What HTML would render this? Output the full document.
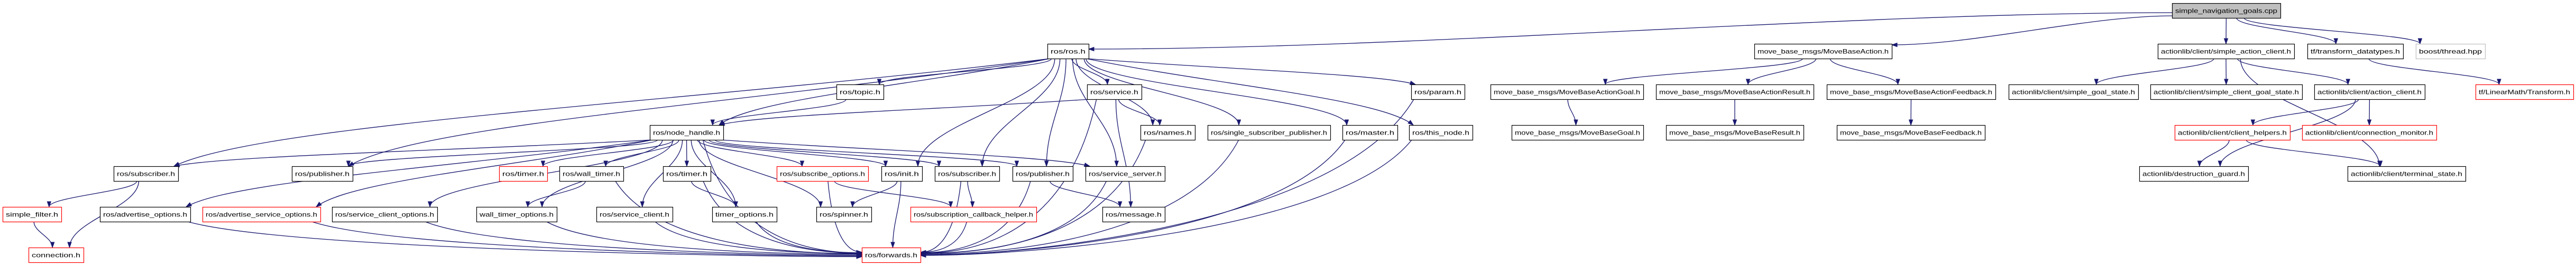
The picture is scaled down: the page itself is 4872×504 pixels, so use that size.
<!DOCTYPE html>
<html><head><meta charset="utf-8"><style>
html,body{margin:0;padding:0;background:#fff;width:4872px;height:504px;overflow:hidden}
svg{display:block}
text{font-family:"Liberation Sans",sans-serif;font-size:12px;fill:#000}
</style></head><body>
<svg id="g" width="4872" height="504" viewBox="0 0 4872 504" xmlns="http://www.w3.org/2000/svg">
<g id="edges" fill="none" stroke="#191970" stroke-width="1.3"></g>
<g id="arrows" fill="#191970" stroke="#191970" stroke-width="1"></g>
<g id="nodes"></g>
</svg>
<div id="labels" style="display:none">
simple_navigation_goals.cpp ros/ros.h move_base_msgs/MoveBaseAction.h actionlib/client/simple_action_client.h tf/transform_datatypes.h boost/thread.hpp ros/topic.h ros/service.h ros/param.h move_base_msgs/MoveBaseActionGoal.h move_base_msgs/MoveBaseActionResult.h move_base_msgs/MoveBaseActionFeedback.h actionlib/client/simple_goal_state.h actionlib/client/simple_client_goal_state.h actionlib/client/action_client.h tf/LinearMath/Transform.h ros/node_handle.h ros/names.h ros/single_subscriber_publisher.h ros/master.h ros/this_node.h move_base_msgs/MoveBaseGoal.h move_base_msgs/MoveBaseResult.h move_base_msgs/MoveBaseFeedback.h actionlib/client/client_helpers.h actionlib/client/connection_monitor.h ros/subscriber.h ros/publisher.h ros/timer.h ros/wall_timer.h ros/subscribe_options.h ros/init.h ros/service_server.h actionlib/destruction_guard.h actionlib/client/terminal_state.h simple_filter.h ros/advertise_options.h ros/advertise_service_options.h ros/service_client_options.h wall_timer_options.h ros/service_client.h timer_options.h ros/spinner.h ros/subscription_callback_helper.h ros/message.h connection.h ros/forwards.h
</div>
<script>
var RY=[6,83,160,237,315,392,469],H=28;
var N={
cpp:["simple_navigation_goals.cpp",4108,4313,0,"g"],
ros:["ros/ros.h",1981,2059,1],
mba:["move_base_msgs/MoveBaseAction.h",3318,3578,1],
sac:["actionlib/client/simple_action_client.h",4081,4339,1],
tfd:["tf/transform_datatypes.h",4364,4545,1],
bth:["boost/thread.hpp",4569,4700,1,"l"],
top:["ros/topic.h",1582,1671,2],
srv:["ros/service.h",2056,2159,2],
par:["ros/param.h",2669,2770,2],
mag:["move_base_msgs/MoveBaseActionGoal.h",2819,3108,2],
mar:["move_base_msgs/MoveBaseActionResult.h",3132,3430,2],
maf:["move_base_msgs/MoveBaseActionFeedback.h",3455,3774,2],
sgs:["actionlib/client/simple_goal_state.h",3799,4044,2],
scg:["actionlib/client/simple_client_goal_state.h",4067,4354,2],
acl:["actionlib/client/action_client.h",4377,4586,2],
ltf:["tf/LinearMath/Transform.h",4682,4867,2,"r"],
nh:["ros/node_handle.h",1229,1368,3],
nam:["ros/names.h",2157,2260,3],
ssp:["ros/single_subscriber_publisher.h",2284,2516,3],
mas:["ros/master.h",2539,2643,3],
thn:["ros/this_node.h",2665,2785,3],
mbg:["move_base_msgs/MoveBaseGoal.h",2859,3108,3],
mbr:["move_base_msgs/MoveBaseResult.h",3151,3411,3],
mbf:["move_base_msgs/MoveBaseFeedback.h",3474,3754,3],
chp:["actionlib/client/client_helpers.h",4113,4331,3,"r"],
cmo:["actionlib/client/connection_monitor.h",4354,4608,3,"r"],
sub1:["ros/subscriber.h",215,337,4],
pub1:["ros/publisher.h",552,667,4],
tim1:["ros/timer.h",944,1035,4,"r"],
wt:["ros/wall_timer.h",1058,1179,4],
tim2:["ros/timer.h",1254,1344,4],
sop:["ros/subscribe_options.h",1469,1642,4,"r"],
ini:["ros/init.h",1667,1744,4],
sub2:["ros/subscriber.h",1768,1890,4],
pub2:["ros/publisher.h",1915,2029,4],
ssv:["ros/service_server.h",2053,2203,4],
dg:["actionlib/destruction_guard.h",4046,4252,4],
ts:["actionlib/client/terminal_state.h",4440,4663,4],
sf:["simple_filter.h",5,116,5,"r"],
ao:["ros/advertise_options.h",189,360,5],
aso:["ros/advertise_service_options.h",383,606,5,"r"],
sco:["ros/service_client_options.h",628,827,5],
wto:["wall_timer_options.h",901,1053,5],
scl:["ros/service_client.h",1128,1272,5],
to:["timer_options.h",1347,1469,5],
spn:["ros/spinner.h",1544,1648,5],
sch:["ros/subscription_callback_helper.h",1722,1960,5,"r"],
msg:["ros/message.h",2085,2203,5],
con:["connection.h",54,158,6,"r"],
fwd:["ros/forwards.h",1630,1741,6,"r"]
};
var E=[["cpp","ros","L"],["cpp","mba","L"],["cpp","sac"],["cpp","tfd"],["cpp","bth"],
["ros","sub1"],["ros","pub1"],["ros","nh"],["ros","top"],["ros","srv"],["ros","ini"],["ros","sub2"],["ros","pub2"],["ros","ssv"],["ros","nam"],["ros","ssp"],["ros","mas"],["ros","thn"],["ros","par"],
["top","nh"],["srv","nh"],["srv","nam"],["srv","msg"],["srv","fwd"],
["nh","sub1"],["nh","pub1"],["nh","ao"],["nh","aso"],["nh","sco"],["nh","wto"],["nh","tim1"],["nh","wt"],["nh","scl"],["nh","tim2"],["nh","to"],["nh","spn"],["nh","sop"],["nh","ini"],["nh","sub2"],["nh","pub2"],["nh","ssv"],["nh","fwd"],
["sub1","sf"],["sub1","con"],["sf","con"],["wt","wto"],["wt","fwd"],["tim2","to"],["tim2","fwd"],
["ao","fwd"],["aso","fwd"],["sco","fwd"],["wto","fwd"],["scl","fwd"],["to","fwd"],["sop","fwd"],["sop","sch"],["ini","spn"],["ini","fwd"],["sub2","sch"],["sub2","fwd"],["pub2","msg"],["pub2","fwd"],["ssv","fwd"],["sch","fwd"],["nam","fwd"],["ssp","fwd"],["mas","fwd"],["thn","fwd"],["par","fwd"],
["mba","mag"],["mba","mar"],["mba","maf"],["mag","mbg"],["mar","mbr"],["maf","mbf"],
["sac","sgs"],["sac","scg"],["sac","acl"],["sac","ts"],["acl","dg"],["acl","chp"],["acl","cmo"],["chp","dg"],["chp","ts"],["tfd","ltf"]];
var NS="http://www.w3.org/2000/svg";
function el(t,a,p){var e=document.createElementNS(NS,t);for(var k in a)e.setAttribute(k,a[k]);p.appendChild(e);return e;}
var ng=document.getElementById("nodes"),eg=document.getElementById("edges"),ag=document.getElementById("arrows");
for(var k in N){var n=N[k],y=RY[n[3]],w=n[2]-n[1];
 var st=n[4]=="r"?"#ff0000":n[4]=="l"?"#bfbfbf":"#000";
 var fill=n[4]=="g"?"#bfbfbf":"#fff";
 el("rect",{x:n[1]+0.5,y:y+0.5,width:w,height:H,fill:fill,stroke:st,"stroke-width":1.2},ng);
 var t=el("text",{x:n[1]+w/2,y:y+18.5,"text-anchor":"middle",textLength:w-12,lengthAdjust:"spacingAndGlyphs"},ng);
 t.textContent=n[0];}
E.forEach(function(e){var s=N[e[0]],t=N[e[1]];var x1,y1,x2,y2,c1x,c1y,c2x,c2y;
 var sc=(s[1]+s[2])/2,tc=(t[1]+t[2])/2,sw=s[2]-s[1],tw=t[2]-t[1];
 if(e[2]=="L"){x1=s[1];y1=RY[s[3]]+(e[1]=="ros"?18:24);x2=t[2];y2=RY[t[3]]+(e[1]=="ros"?10:2);
  c1x=x1-(x1-x2)*0.3;c1y=y1;c2x=x2+(x1-x2)*0.3;c2y=y2;}
 else if(e[1]=="fwd" && Math.abs(sc-tc)>60){
  x1=s[1]+sw/2+Math.max(-sw/2+5,Math.min(sw/2-5,(tc-sc)*0.08));y1=RY[s[3]]+H;
  var left=sc<tc;x2=left?t[1]:t[2];y2=RY[6]+8+Math.min(12,Math.abs(sc-tc)/150);
  c1x=x1+(x2-x1)*0.15;c1y=y1+(y2-y1)*0.8;c2x=x2+(left?-1:1)*Math.min(200,Math.abs(x2-x1)*0.4);c2y=y2;}
 else{
  x1=s[1]+sw/2+Math.max(-sw/2+5,Math.min(sw/2-5,(tc-sc)*0.08));y1=RY[s[3]]+H;
  x2=tc+Math.max(-tw/2+8,Math.min(tw/2-8,(sc-tc)*0.15));y2=RY[t[3]];
  var dy=y2-y1;c1x=x1;c1y=y1+dy*0.4;c2x=x2;c2y=y2-dy*0.4;
  if(Math.abs(x2-x1)>600){c1x=x1+(x2-x1)*0.4;c2x=x2-(x2-x1)*0.1;}}
 el("path",{d:"M"+x1+","+y1+" C"+c1x+","+c1y+" "+c2x+","+c2y+" "+x2+","+y2},eg);
 var dx=x2-c2x,dyy=y2-c2y,l=Math.sqrt(dx*dx+dyy*dyy)||1;dx/=l;dyy/=l;
 var bx=x2-dx*10,by=y2-dyy*10,px=-dyy*3.5,py=dx*3.5;
 el("polygon",{points:x2+","+y2+" "+(bx+px)+","+(by+py)+" "+(bx-px)+","+(by-py)},ag);
});
</script>
</body></html>
